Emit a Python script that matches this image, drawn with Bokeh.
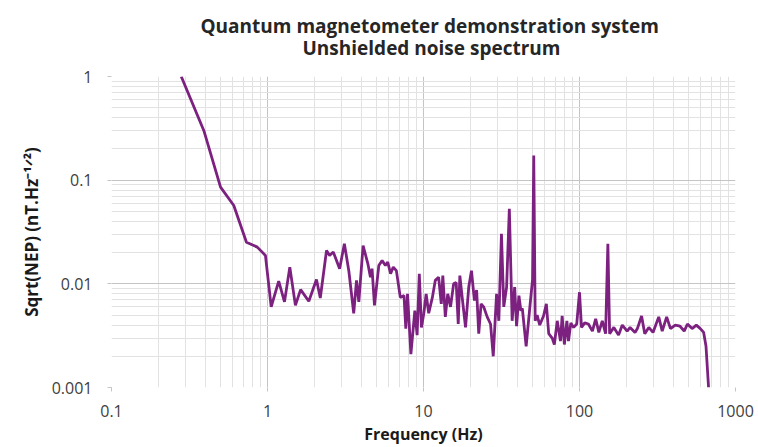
from bokeh.plotting import figure
from bokeh.models import FixedTicker, CustomJSTickFormatter, Range1d, Title
from bokeh.embed import file_html
from bokeh.resources import INLINE

# ---- data ----
freq_hz = [0.28, 0.391, 0.50, 0.608, 0.733, 0.86, 0.97, 1.056, 1.18, 1.285, 1.39, 1.51,
           1.63, 1.84, 2.06, 2.18, 2.39, 2.50, 2.64, 2.90, 3.11, 3.32, 3.57, 3.72, 3.85,
           4.10, 4.40, 4.57, 4.68, 4.85, 5.17, 5.43, 5.70, 5.90, 6.15, 6.40, 6.70, 7.10,
           7.50, 7.70, 7.90, 8.30, 8.80, 9.10, 9.40, 9.70, 10.05, 10.4, 10.8, 11.4, 11.9,
           12.5, 13.0, 13.3, 13.8, 14.3, 14.9, 15.6, 16.2, 16.7, 17.1, 17.7, 18.6, 19.5,
           20.3, 21.2, 21.9, 22.6, 23.4, 24.3, 25.6, 26.9, 28.0, 29.4, 30.4, 31.6, 32.7,
           34.1, 35.5, 37.0, 38.4, 39.5, 40.9, 42.1, 43.0, 45.5, 48.5, 50.0, 50.9, 52.0,
           53.5, 55.6, 58.8, 61.3, 63.5, 66.8, 69.0, 72.0, 75.5, 77.4, 80.0, 83.0, 85.0,
           88.0, 91.7, 96.0, 100.0, 103, 108, 114, 121, 127, 133, 140, 147, 152, 156,
           166, 178, 188, 202, 211, 227, 235, 250, 262, 278, 296, 322, 339, 362, 383,
           411, 441, 469, 492, 527, 561, 595, 625, 647, 672]
sqrt_nep = [1.0, 0.30, 0.0857, 0.057, 0.0252, 0.0226, 0.0188, 0.0060, 0.0106, 0.0067, 0.0145, 0.0062,
            0.0088, 0.0068, 0.0110, 0.0073, 0.0210, 0.0188, 0.0203, 0.0140, 0.0244, 0.0134, 0.0052, 0.0108, 0.0067,
            0.0234, 0.0156, 0.0116, 0.0140, 0.0062, 0.0150, 0.0168, 0.0150, 0.0162, 0.0125, 0.0145, 0.0134, 0.0074,
            0.0077, 0.0037, 0.0080, 0.0021, 0.0055, 0.0032, 0.0125, 0.0038, 0.0052, 0.0080, 0.0052, 0.0074, 0.0108,
            0.0116, 0.0064, 0.0120, 0.0048, 0.0080, 0.0060, 0.0100, 0.0103, 0.0041, 0.0120, 0.0074, 0.0038, 0.0093,
            0.0134, 0.0069, 0.0087, 0.0033, 0.0064, 0.0060, 0.0048, 0.0041, 0.0020, 0.0080, 0.0044, 0.0304, 0.0060,
            0.0093, 0.053, 0.0044, 0.0093, 0.0039, 0.0077, 0.0055, 0.0058, 0.0025, 0.0069, 0.0110, 0.173, 0.0044,
            0.0050, 0.0040, 0.0049, 0.0064, 0.0033, 0.0030, 0.0026, 0.0044, 0.0028, 0.0049, 0.0026, 0.0044, 0.0028,
            0.0042, 0.0038, 0.0041, 0.0083, 0.0038, 0.0042, 0.0041, 0.0035, 0.0046, 0.0034, 0.0044, 0.0033, 0.0244, 0.0033,
            0.0038, 0.0032, 0.0040, 0.0035, 0.0038, 0.0034, 0.0037, 0.0049, 0.0033, 0.0038, 0.0034, 0.0048, 0.0035, 0.0048, 0.0037,
            0.0040, 0.0039, 0.0035, 0.0041, 0.0037, 0.0040, 0.0037, 0.0034, 0.0025, 0.0010]

x_ticks = [0.1, 1, 10, 100, 1000]
x_tick_labels = ["0.1", "1", "10", "100", "1000"]
y_ticks = [0.001, 0.01, 0.1, 1]
y_tick_labels = ["0.001", "0.01", "0.1", "1"]
x_minor = [m * 10.0 ** e for e in range(-1, 3) for m in range(2, 10)]
y_minor = [m * 10.0 ** e for e in range(-3, 0) for m in range(2, 10)]

title_line1 = "Quantum magnetometer demonstration system"
title_line2 = "Unshielded noise spectrum"
x_title = "Frequency (Hz)"
y_title = "Sqrt(NEP) (nT.Hz\u207b\u00b9\u141f\u00b2)"

FONT = "Open Sans"
LINE_COLOR = "#7c2180"
MAJOR_GRID = "#c4c4c4"
MINOR_GRID = "#e2e2e2"

p = figure(width=758, height=447, x_axis_type="log", y_axis_type="log",
           x_range=Range1d(0.1, 1000), y_range=Range1d(0.001, 1),
           output_backend="svg", toolbar_location=None, title=None,
           min_border_left=111, min_border_right=23, min_border_top=76, min_border_bottom=60)
p.outline_line_color = None
p.background_fill_color = "white"
p.border_fill_color = "white"

p.line(freq_hz, sqrt_nep, line_color=LINE_COLOR, line_width=2.8)

fmt_code = """
let best = 0, bd = Infinity;
for (let i = 0; i < tvals.length; i++) {
  const d = Math.abs(Math.log10(tick) - Math.log10(tvals[i]));
  if (d < bd) { bd = d; best = i; }
}
return tlabels[best];
"""
p.xaxis.ticker = FixedTicker(ticks=x_ticks, minor_ticks=x_minor)
p.yaxis.ticker = FixedTicker(ticks=y_ticks, minor_ticks=y_minor)
p.xaxis.formatter = CustomJSTickFormatter(args=dict(tvals=x_ticks, tlabels=x_tick_labels), code=fmt_code)
p.yaxis.formatter = CustomJSTickFormatter(args=dict(tvals=y_ticks, tlabels=y_tick_labels), code=fmt_code)

for ax in (p.xaxis, p.yaxis):
    ax.axis_line_color = None
    ax.major_tick_out = 4
    ax.major_tick_in = 0
    ax.minor_tick_out = 0
    ax.minor_tick_in = 0
    ax.major_tick_line_color = MAJOR_GRID
    ax.major_label_text_font = FONT
    ax.major_label_text_font_size = "16px"
    ax.major_label_text_color = "#404040"
    ax.axis_label_text_font = FONT
    ax.axis_label_text_font_style = "bold"
    ax.axis_label_text_color = "#1a1a1a"

p.xaxis.major_label_standoff = 13
p.yaxis.major_label_standoff = 15

p.xaxis.axis_label = x_title
p.xaxis.axis_label_text_font_size = "16px"
p.xaxis.axis_label_standoff = 3

p.yaxis.axis_label = y_title
p.yaxis.axis_label_text_font_size = "17px"
p.yaxis.axis_label_standoff = 6

for g in (p.xgrid, p.ygrid):
    g.grid_line_color = MAJOR_GRID
    g.grid_line_width = 1
    g.minor_grid_line_color = MINOR_GRID
    g.minor_grid_line_width = 1

p.add_layout(Title(text=title_line2, align="left", text_font=FONT, text_font_size="19px",
                   text_font_style="bold", text_color="#262626", standoff=32, offset=191), "above")
p.add_layout(Title(text=title_line1, align="left", text_font=FONT, text_font_size="19px",
                   text_font_style="bold", text_color="#262626", standoff=-44, offset=89), "above")

open("out.html", "w").write(file_html(p, INLINE))
